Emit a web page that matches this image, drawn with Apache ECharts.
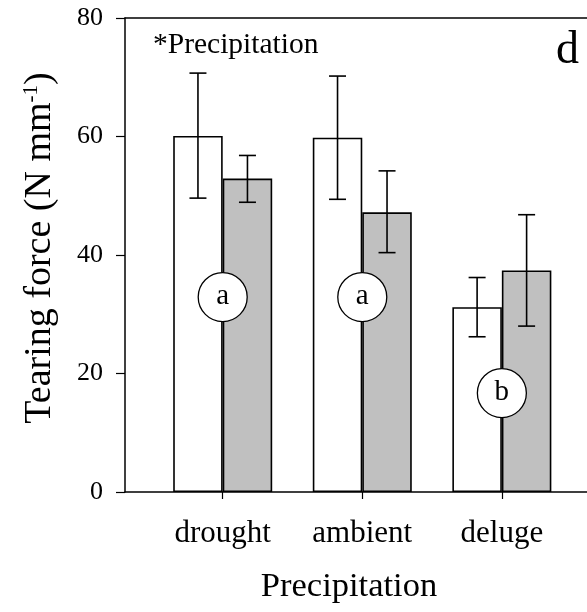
<!DOCTYPE html>
<html>
<head>
<meta charset="utf-8">
<script src="https://cdn.jsdelivr.net/npm/echarts@6/dist/echarts.min.js"></script>
<style>html,body{margin:0;padding:0;background:#fff}#c{width:587px;height:612px}</style>
</head>
<body>
<div id="c"></div>
<script>
const categories = ['drought', 'ambient', 'deluge'];
const openMeans = [60.1, 59.8, 31.2];
const openLow = [49.6, 49.4, 26.2];
const openHigh = [70.7, 70.2, 36.2];
const greyMeans = [52.9, 47.2, 37.4];
const greyLow = [48.9, 40.4, 28.0];
const greyHigh = [56.8, 54.2, 46.8];
const letters = ['a', 'a', 'b'];
const letterY = [32.9, 32.9, 16.7];
const yTicks = [0, 20, 40, 60, 80];

const FONT = '"Liberation Serif", "Times New Roman", serif';
const BARW = 49.5;
const catPos = categories.map((c, i) => i + 1);

const chart = echarts.init(document.getElementById('c'), null, {renderer: 'canvas'});

function errItem(offsetSign) {
  return function (params, api) {
    const x = api.value(0);
    const top = api.coord([x, api.value(2)]);
    const bot = api.coord([x, api.value(1)]);
    const cx = top[0] + offsetSign * BARW / 2;
    const cap = 8.5;
    const st = {stroke: '#000', lineWidth: 1.6};
    return {
      type: 'group',
      children: [
        {type: 'line', shape: {x1: cx, y1: top[1], x2: cx, y2: bot[1]}, style: st},
        {type: 'line', shape: {x1: cx - cap, y1: top[1], x2: cx + cap, y2: top[1]}, style: st},
        {type: 'line', shape: {x1: cx - cap, y1: bot[1], x2: cx + cap, y2: bot[1]}, style: st}
      ]
    };
  };
}

const option = {
  animation: false,
  backgroundColor: '#fff',
  grid: {left: 125, right: 0, top: 18, bottom: 120, containLabel: false},
  xAxis: [{
    type: 'value', min: 0.3, max: 3.61,
    axisLine: {show: true, lineStyle: {color: '#000', width: 1.5}},
    axisTick: {show: true, inside: false, length: 7, customValues: catPos, lineStyle: {color: '#000', width: 1.2}},
    axisLabel: {customValues: catPos, formatter: v => categories[Math.round(v) - 1] || '',
      fontFamily: FONT, fontSize: 31, color: '#000', margin: 26},
    splitLine: {show: false},
    name: 'Precipitation', nameLocation: 'middle', nameGap: 77,
    nameTextStyle: {fontFamily: FONT, fontSize: 34.5, color: '#000', padding: [0, 14, 0, 0]}
  }, {
    type: 'value', min: 0.3, max: 3.61, position: 'top',
    axisLine: {show: true, onZero: false, lineStyle: {color: '#000', width: 1.5}},
    axisTick: {show: false}, axisLabel: {show: false}, splitLine: {show: false}
  }],
  yAxis: {
    type: 'value', min: 0, max: 80, interval: 20,
    axisLine: {show: true, lineStyle: {color: '#000', width: 1.5}},
    axisTick: {show: true, inside: false, length: 9, lineStyle: {color: '#000', width: 1.2}},
    axisLabel: {fontFamily: FONT, fontSize: 26, color: '#000', margin: 22,
      formatter: v => yTicks.indexOf(v) >= 0 ? String(v) : ''},
    splitLine: {show: false},
    name: '{b|Tearing force (N mm}{s|-1}{b|)}', nameLocation: 'middle', nameGap: 66, nameRotate: 90,
    nameTextStyle: {
      fontFamily: FONT, fontSize: 38, color: '#000', padding: [0, 0, 0, 14],
      rich: {
        b: {fontFamily: FONT, fontSize: 38, color: '#000'},
        s: {fontFamily: FONT, fontSize: 21, color: '#000', verticalAlign: 'top'}
      }
    }
  },
  series: [
    {
      type: 'bar', name: 'open', barWidth: BARW, barGap: '0%',
      itemStyle: {color: '#fff', borderColor: '#000', borderWidth: 1.6},
      data: openMeans.map((v, i) => [catPos[i], v]), z: 2
    },
    {
      type: 'bar', name: 'grey', barWidth: BARW, barGap: '0%',
      itemStyle: {color: '#c0c0c0', borderColor: '#000', borderWidth: 1.6},
      data: greyMeans.map((v, i) => [catPos[i], v]), z: 2
    },
    {
      type: 'custom', renderItem: errItem(-1), z: 3,
      data: openLow.map((v, i) => [catPos[i], v, openHigh[i]])
    },
    {
      type: 'custom', renderItem: errItem(1), z: 3,
      data: greyLow.map((v, i) => [catPos[i], v, greyHigh[i]])
    },
    {
      type: 'custom', z: 4,
      data: letters.map((l, i) => [catPos[i], letterY[i], l]),
      renderItem: function (params, api) {
        const p = api.coord([api.value(0), api.value(1)]);
        return {
          type: 'group',
          children: [
            {type: 'circle', shape: {cx: p[0], cy: p[1], r: 24.5},
              style: {fill: '#fff', stroke: '#000', lineWidth: 1.3}},
            {type: 'text', x: p[0], y: p[1] - 1,
              style: {text: letters[params.dataIndex], fontFamily: FONT, fontSize: 29, fill: '#000',
                align: 'center', verticalAlign: 'middle'}}
          ]
        };
      }
    }
  ],
  graphic: [
    {type: 'text', left: 153, top: 30,
      style: {text: '*Precipitation', fontFamily: FONT, fontSize: 29.5, fill: '#000'}},
    {type: 'text', left: 556, top: 28,
      style: {text: 'd', fontFamily: FONT, fontSize: 46, fill: '#000'}}
  ]
};
chart.setOption(option);
</script>
</body>
</html>
